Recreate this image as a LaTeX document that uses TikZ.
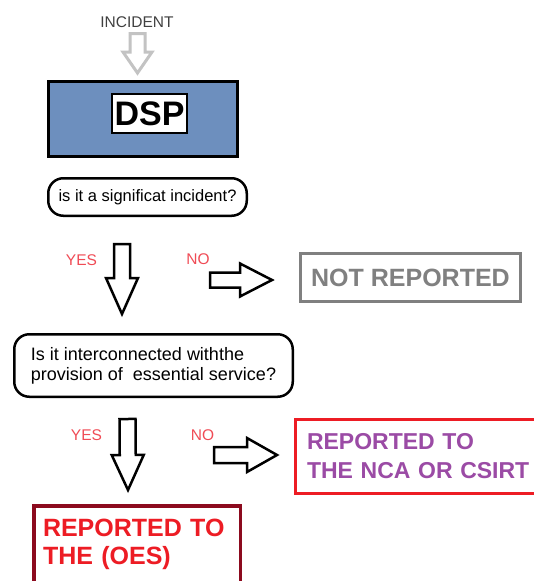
\documentclass[tikz,border=0pt]{standalone}
\usepackage{fontspec}
\setmainfont{Liberation Sans}
\usepackage{tikz}
\usetikzlibrary{calc}

\definecolor{dspblue}{RGB}{109,143,190}
\definecolor{yesno}{RGB}{240,75,85}
\definecolor{notgray}{RGB}{128,128,128}
\definecolor{ncared}{RGB}{237,28,36}
\definecolor{ncapurple}{RGB}{155,75,165}
\definecolor{oesdark}{RGB}{140,10,30}
\definecolor{incgray}{RGB}{195,195,195}

\tikzstyle{dspbox} = [rectangle, minimum width=189pt, minimum height=75pt, draw=black, line width=3pt, fill=dspblue]
\tikzstyle{dsplbl} = [rectangle, minimum width=75pt, minimum height=39pt, inner sep=0pt, draw=black, line width=2pt, fill=white, font=\fontsize{34}{38}\selectfont\bfseries]
\tikzstyle{question} = [rectangle, rounded corners=15pt, draw=black, line width=2.5pt, fill=white]
\tikzstyle{answer} = [text=yesno, inner sep=1pt, font=\fontsize{15.5}{18}\selectfont]
\tikzstyle{arrowline} = [draw=black, line width=2.5pt, fill=white]
% hollow block arrow: shaft half width, head half width, head length
\tikzset{blockarrow/.style n args={3}{to path={
  ($(\tikztostart)!#1!90:(\tikztotarget)$)
  -- ($(\tikztotarget)!#3!(\tikztostart)!#1!90:(\tikztotarget)$)
  -- ($(\tikztotarget)!#3!(\tikztostart)!#2!90:(\tikztotarget)$)
  -- (\tikztotarget)
  -- ($(\tikztotarget)!#3!(\tikztostart)!#2!-90:(\tikztotarget)$)
  -- ($(\tikztotarget)!#3!(\tikztostart)!#1!-90:(\tikztotarget)$)
  -- ($(\tikztostart)!#1!-90:(\tikztotarget)$)
  -- cycle}}}

\begin{document}
\begin{tikzpicture}[x=1pt, y=-1pt]
    \clip (0,0) rectangle (534,581);
    \fill[white] (0,0) rectangle (534,581);

    % Incident and service provider
    \node (incident) [inner sep=2pt, text=black!75, font=\fontsize{15.5}{18}\selectfont] at (137,22) {INCIDENT};
    \node (dsp) [dspbox] at (143,119) {};
    \node (dsplabel) [dsplbl] at (149.5,113.5) {DSP};

    % Questions
    \node (q1) [question, minimum width=198.5pt, minimum height=37.5pt, font=\fontsize{16.5}{19}\selectfont] at (147.5,197) {is it a significat incident?};
    \node (q2) [question, minimum width=278.5pt, minimum height=62.5pt, align=left, font=\fontsize{18}{20}\selectfont] at (153.5,365.5) {Is it interconnected withthe\\provision of \ essential service?};

    % Outcomes
    \node (notrep) [rectangle, minimum width=220pt, minimum height=48pt, draw=notgray, line width=3pt, text=notgray, font=\fontsize{25}{28}\selectfont\bfseries] at (410.5,277.5) {NOT REPORTED};
    \node (nca) [rectangle, anchor=west, minimum height=74pt, inner xsep=11.5pt, text width=237pt, align=left, draw=ncared, line width=3pt, text=ncapurple, font=\fontsize{23}{29}\selectfont\bfseries] at (294,456.5) {REPORTED TO\\THE NCA OR CSIRT};
    \node (oes) [rectangle, anchor=north west, inner xsep=9.25pt, inner ysep=13.25pt, text width=188pt, text depth=40pt, align=left, draw=oesdark, line width=3.5pt, text=ncared, font=\fontsize{25}{28}\selectfont\bfseries] at (32,504) {REPORTED TO\\THE (OES)};

    % Answers
    \node (yes1) [answer] at (81.5,260) {YES};
    \node (no1) [answer] at (198,259) {NO};
    \node (yes2) [answer] at (86.5,435) {YES};
    \node (no2) [answer] at (202.5,435) {NO};
    \coordinate (notail1) at (210,280);
    \coordinate (notail2) at (214,455);

    % Arrows
    \draw [blockarrow={7.5pt}{14.5pt}{21pt}, draw=incgray, line width=3pt, fill=white] ([xshift=0.5pt,yshift=-4pt]incident.south) to ([xshift=-5.5pt,yshift=7pt]dsp.north);
    \draw [blockarrow={8pt}{16pt}{36pt}, arrowline] ([xshift=-25.5pt,yshift=-27pt]q1.south) to ([xshift=-31.5pt,yshift=19pt]q2.north);
    \draw [blockarrow={7.5pt}{16.5pt}{32pt}, arrowline] (notail1) to ($(notail1 -| notrep.west)+(-27,0)$);
    \draw [blockarrow={8pt}{16pt}{35pt}, arrowline] ([xshift=-26pt,yshift=-21pt]q2.south) to ([xshift=-9pt,yshift=14pt]oes.north);
    \draw [blockarrow={8pt}{17pt}{30pt}, arrowline] (notail2) to ($(notail2 -| nca.west)+(-17,0)$);
\end{tikzpicture}
\end{document}
